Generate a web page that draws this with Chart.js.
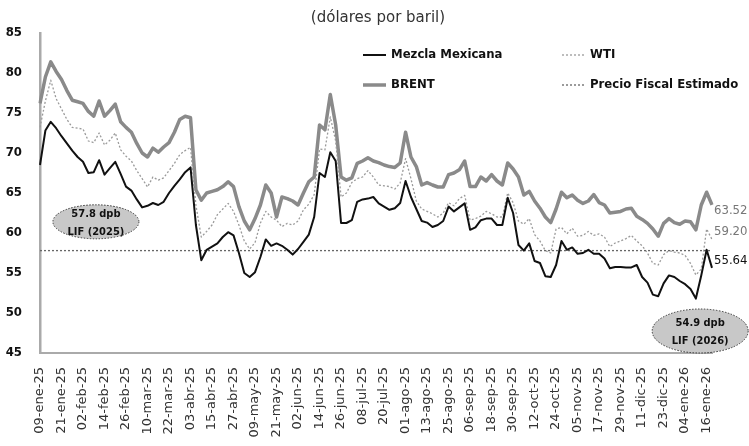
<!DOCTYPE html>
<html>
<head>
<meta charset="utf-8">
<script src="https://cdn.jsdelivr.net/npm/chart.js"></script>
<style>
  body { margin: 0; background: #fff; }
  #wrap { width: 749px; height: 446px; }
</style>
</head>
<body>
<div id="wrap"><canvas id="chart" width="749" height="446"></canvas></div>
<script>
// datos cada 3 dias desde 09-ene-25 hasta 19-ene-26
const meses = ['ene', 'feb', 'mar', 'abr', 'may', 'jun', 'jul', 'ago', 'sep', 'oct', 'nov', 'dic'];
const fechas = [];
for (let i = 0; i < 126; i++) {
  const d = new Date(2025, 0, 9 + i * 3);
  fechas.push(String(d.getDate()).padStart(2, '0') + '-' + meses[d.getMonth()] + '-' + String(d.getFullYear()).slice(2));
}

const etiquetasEje = ['09-ene-25', '21-ene-25', '02-feb-25', '14-feb-25', '26-feb-25', '10-mar-25', '22-mar-25',
  '03-abr-25', '15-abr-25', '27-abr-25', '09-may-25', '21-may-25', '02-jun-25', '14-jun-25', '26-jun-25',
  '08-jul-25', '20-jul-25', '01-ago-25', '13-ago-25', '25-ago-25', '06-sep-25', '18-sep-25', '30-sep-25',
  '12-oct-25', '24-oct-25', '05-nov-25', '17-nov-25', '29-nov-25', '11-dic-25', '23-dic-25', '04-ene-26', '16-ene-26'];

const mezcla = [68.5, 72.8, 73.9, 73.1, 72.1, 71.2, 70.3, 69.5, 68.9, 67.5,
  67.6, 69.1, 67.3, 68.1, 68.9, 67.4, 65.8, 65.3, 64.2, 63.2,
  63.4, 63.75, 63.5, 63.9, 65.0, 65.9, 66.7, 67.6, 68.2, 61.0,
  56.6, 57.9, 58.3, 58.7, 59.5, 60.1, 59.7, 57.5, 55.0, 54.5,
  55.1, 57.0, 59.2, 58.4, 58.7, 58.4, 57.9, 57.3, 58.0, 58.9,
  59.8, 62.0, 67.5, 67.0, 70.1, 69.0, 61.25, 61.25, 61.6, 63.9,
  64.2, 64.3, 64.5, 63.7, 63.3, 62.9, 63.1, 63.75, 66.5, 64.5,
  63.0, 61.5, 61.3, 60.75, 61.0, 61.5, 63.3, 62.7, 63.2, 63.7,
  60.4, 60.7, 61.6, 61.8, 61.8, 61.0, 61.0, 64.4, 62.5, 58.5,
  57.8, 58.7, 56.5, 56.25, 54.6, 54.5, 56.0, 59.0, 57.9, 58.2,
  57.4, 57.5, 57.9, 57.4, 57.4, 56.8, 55.6, 55.75, 55.75, 55.7,
  55.7, 56.0, 54.5, 53.8, 52.3, 52.1, 53.7, 54.7, 54.5, 54.0,
  53.6, 53.0, 51.8, 54.7, 57.9, 55.64];

const wti = [73.2, 76.5, 79.1, 76.8, 75.5, 74.2, 73.2, 73.1, 73.0, 71.5,
  71.3, 72.5, 71.0, 71.6, 72.5, 70.4, 69.6, 69.0, 67.8, 66.8,
  65.75, 67.0, 66.6, 66.9, 67.8, 68.7, 69.8, 70.3, 70.7, 63.5,
  59.5, 60.2, 61.0, 62.3, 63.0, 63.7, 62.7, 61.0, 59.0, 58.0,
  58.8, 61.25, 62.7, 62.0, 61.6, 60.8, 61.2, 61.0, 61.5, 62.9,
  63.6, 64.8, 70.5, 70.4, 74.5, 71.5, 64.5, 65.0, 66.3, 66.8,
  67.0, 67.8, 67.0, 66.0, 65.9, 65.8, 65.5, 66.25, 69.3, 66.8,
  64.0, 63.0, 62.7, 62.4, 62.0, 62.5, 63.8, 63.4, 64.3, 64.7,
  61.6, 61.8, 62.1, 62.7, 62.4, 62.0, 62.0, 65.0, 63.8, 61.5,
  61.1, 61.8, 59.8, 59.0, 57.8, 57.5, 60.5, 60.7, 59.9, 60.6,
  59.6, 59.7, 60.2, 59.7, 59.9, 59.5, 58.3, 58.75, 59.0, 59.3,
  59.7, 59.0, 58.4, 57.5, 56.2, 56.0, 57.3, 57.8, 57.6, 57.5,
  57.2, 56.2, 54.75, 55.5, 60.5, 59.2];

const brent = [76.2, 79.5, 81.4, 80.2, 79.2, 77.8, 76.6, 76.4, 76.2, 75.2,
  74.6, 76.5, 74.6, 75.3, 76.1, 73.9, 73.2, 72.6, 71.2, 70.0,
  69.5, 70.6, 70.1, 70.75, 71.3, 72.6, 74.2, 74.6, 74.4, 65.4,
  64.1, 65.0, 65.2, 65.4, 65.8, 66.4, 65.8, 63.3, 61.5, 60.4,
  61.8, 63.5, 66.0, 65.0, 62.0, 64.5, 64.3, 64.0, 63.5, 65.0,
  66.4, 67.0, 73.5, 72.9, 77.3, 73.5, 67.0, 66.6, 66.9, 68.7,
  69.0, 69.4, 69.0, 68.8, 68.5, 68.3, 68.2, 68.75, 72.6, 69.5,
  68.3, 66.0, 66.3, 66.0, 65.75, 65.75, 67.3, 67.5, 67.9, 69.0,
  65.8, 65.8, 67.0, 66.5, 67.3, 66.5, 66.0, 68.75, 68.0, 67.0,
  64.75, 65.2, 64.0, 63.1, 62.0, 61.3, 63.0, 65.1, 64.4, 64.75,
  64.1, 63.7, 64.0, 64.8, 63.8, 63.5, 62.5, 62.6, 62.7, 63.0,
  63.1, 62.1, 61.7, 61.2, 60.5, 59.6, 61.2, 61.8, 61.3, 61.1,
  61.5, 61.4, 60.4, 63.5, 65.1, 63.52];

const precioFiscal = 57.8;
const lif2025 = ['57.8 dpb', 'LIF (2025)'];
const lif2026 = ['54.9 dpb', 'LIF (2026)'];

const fuente = '"DejaVu Sans Condensed", "DejaVu Sans", sans-serif';
const fuenteAncha = '"DejaVu Sans", sans-serif';

const extras = {
  id: 'extras',
  afterDraw(chart) {
    const ctx = chart.ctx;
    const x = chart.scales.x;
    const y = chart.scales.y;
    ctx.save();

    // titulo
    ctx.fillStyle = '#333';
    ctx.font = '15px ' + fuenteAncha;
    ctx.textAlign = 'center';
    ctx.textBaseline = 'middle';
    ctx.fillText('(dólares por baril)', 378, 18);

    // leyenda
    const items = [
      { txt: 'Mezcla Mexicana', x: 363, y: 55, color: '#111', w: 2, dash: [] },
      { txt: 'BRENT', x: 363, y: 85, color: '#8a8a8a', w: 3.5, dash: [] },
      { txt: 'WTI', x: 562, y: 55, color: '#9a9a9a', w: 1.3, dash: [2, 2] },
      { txt: 'Precio Fiscal Estimado', x: 562, y: 85, color: '#666', w: 1.3, dash: [2, 2] }
    ];
    ctx.font = 'bold 13px ' + fuente;
    ctx.textAlign = 'left';
    items.forEach(it => {
      ctx.beginPath();
      ctx.setLineDash(it.dash);
      ctx.strokeStyle = it.color;
      ctx.lineWidth = it.w;
      ctx.moveTo(it.x, it.y);
      ctx.lineTo(it.x + 23, it.y);
      ctx.stroke();
      ctx.fillStyle = '#111';
      ctx.fillText(it.txt, it.x + 28, it.y);
    });
    ctx.setLineDash([]);

    // valores finales
    const last = fechas.length - 1;
    const px = x.getPixelForValue(last) + 2;
    ctx.font = '13px ' + fuente;
    ctx.fillStyle = '#777';
    ctx.fillText(brent[last].toFixed(2), px, y.getPixelForValue(brent[last]) + 6);
    ctx.fillText(wti[last].toFixed(2), px, y.getPixelForValue(wti[last]) - 8);
    ctx.fillStyle = '#111';
    ctx.fillText(mezcla[last].toFixed(2), px, y.getPixelForValue(mezcla[last]) - 7);

    // elipses LIF
    const elipse = (cx, cy, rx, ry, lineas) => {
      ctx.beginPath();
      ctx.ellipse(cx, cy, rx, ry, 0, 0, Math.PI * 2);
      ctx.fillStyle = '#c8c8c8';
      ctx.fill();
      ctx.setLineDash([1.5, 1.5]);
      ctx.strokeStyle = '#333';
      ctx.lineWidth = 1;
      ctx.stroke();
      ctx.setLineDash([]);
      ctx.fillStyle = '#111';
      ctx.font = 'bold 11px ' + fuente;
      ctx.textAlign = 'center';
      ctx.fillText(lineas[0], cx, cy - 8);
      ctx.fillText(lineas[1], cx, cy + 10);
    };
    elipse(x.getPixelForValue(10.4), y.getPixelForValue(61.4), 43, 17, lif2025);
    elipse(x.getPixelForValue(122.8), y.getPixelForValue(47.75), 48, 22, lif2026);

    ctx.restore();
  }
};

const ctx = document.getElementById('chart').getContext('2d');
new Chart(ctx, {
  type: 'line',
  data: {
    labels: fechas,
    datasets: [
      {
        label: 'Mezcla Mexicana',
        data: mezcla,
        borderColor: '#111',
        borderWidth: 2,
        order: 0
      },
      {
        label: 'Precio Fiscal Estimado',
        data: [{ x: fechas[0], y: precioFiscal }, { x: fechas[fechas.length - 1], y: precioFiscal }],
        borderColor: '#666',
        borderWidth: 1.3,
        borderDash: [2, 2],
        order: 1
      },
      {
        label: 'WTI',
        data: wti,
        borderColor: '#9a9a9a',
        borderWidth: 1.3,
        borderDash: [2, 2],
        order: 2
      },
      {
        label: 'BRENT',
        data: brent,
        borderColor: '#8a8a8a',
        borderWidth: 3.5,
        order: 3
      }
    ]
  },
  options: {
    responsive: false,
    animation: false,
    layout: { padding: { top: 33, right: 37, left: 0, bottom: 0 } },
    elements: { point: { radius: 0 }, line: { tension: 0, borderJoinStyle: 'round' } },
    plugins: { legend: { display: false }, tooltip: { enabled: false } },
    scales: {
      x: {
        offset: false,
        grid: { display: false, drawTicks: false },
        border: { display: true, color: '#aaa', width: 2 },
        afterFit: s => { s.height = 93; },
        ticks: {
          autoSkip: false,
          minRotation: 90,
          maxRotation: 90,
          padding: 14,
          color: '#333',
          font: { family: fuenteAncha, size: 13 },
          callback: (v, i) => (i % 4 === 0 ? etiquetasEje[i / 4] : null)
        }
      },
      y: {
        min: 45,
        max: 85,
        grid: { display: false, drawTicks: false },
        border: { display: true, color: '#aaa', width: 2.5 },
        afterFit: s => { s.width = 40; },
        ticks: {
          stepSize: 5,
          padding: 18,
          color: '#111',
          font: { family: fuente, size: 13, weight: 'bold' }
        }
      }
    }
  },
  plugins: [extras]
});
</script>
</body>
</html>
